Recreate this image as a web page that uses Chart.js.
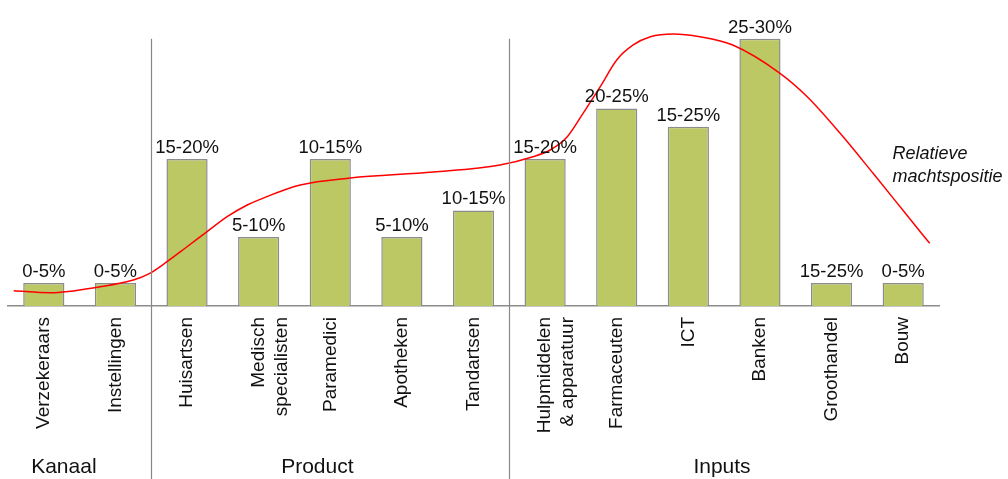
<!DOCTYPE html>
<html>
<head>
<meta charset="utf-8">
<script src="https://cdn.jsdelivr.net/npm/chart.js@4/dist/chart.umd.min.js"></script>
<style>
  html, body { margin: 0; padding: 0; background: #fff; }
  #wrap { width: 1008px; height: 479px; position: relative; }
</style>
</head>
<body>
<div id="wrap"><canvas id="machtChart"></canvas></div>
<script>
// categories and bar values (height in %-points)
const categories = [
  'Verzekeraars', 'Instellingen', 'Huisartsen', ['Medisch', 'specialisten'], 'Paramedici',
  'Apotheken', 'Tandartsen', ['Hulpmiddelen', '& apparatuur'], 'Farmaceuten', 'ICT',
  'Banken', 'Groothandel', 'Bouw'
];
const barValues = [2.5, 2.5, 16, 7.5, 16, 7.5, 10.4, 16, 21.5, 19.5, 29.1, 2.5, 2.5];
const barLabels = ['0-5%', '0-5%', '15-20%', '5-10%', '10-15%', '5-10%', '10-15%',
  '15-20%', '20-25%', '15-25%', '25-30%', '15-25%', '0-5%'];

// "relatieve machtspositie" curve, x in category index units
const curveX = [-0.42, 0.09, 0.79, 1.25, 1.48, 1.72, 2.0, 2.28, 2.56, 2.84, 3.02, 3.58,
  4.28, 5.44, 6.37, 6.83, 7.07, 7.31, 7.53, 7.77, 8.0, 8.23, 8.47, 8.79, 9.16, 9.62,
  10.28, 10.66, 11.12, 11.58, 12.05, 12.37];
const curveY = [1.67, 1.45, 2.1, 2.83, 3.56, 4.82, 6.45, 8.09, 9.72, 10.99, 11.61, 13.17,
  13.93, 14.58, 15.35, 16.25, 16.98, 18.43, 20.97, 23.87, 26.78, 28.41, 29.31, 29.61, 29.31, 28.41,
  25.33, 22.78, 18.8, 14.44, 9.9, 6.82];

const groupNames = ['Kanaal', 'Product', 'Inputs'];
const groupBreaks = [1.5, 6.5]; // separators between categories
const groupLabelAt = [0.28, 3.82, 9.47];

const fontFam = '"Liberation Sans", Arial, sans-serif';

const overlayPlugin = {
  id: 'overlay',
  afterDatasetsDraw(chart) {
    const ctx = chart.ctx;
    const meta = chart.getDatasetMeta(0);
    ctx.save();
    ctx.fillStyle = '#111';
    ctx.font = '18.5px ' + fontFam;
    ctx.textAlign = 'center';
    ctx.textBaseline = 'alphabetic';
    meta.data.forEach(function(bar, i) {
      ctx.fillText(barLabels[i], bar.x, bar.y - 6);
    });
    ctx.restore();
  },
  afterDraw(chart) {
    const ctx = chart.ctx;
    const xs = chart.scales.x2;
    const ys = chart.scales.y;
    ctx.save();
    // group separators
    ctx.strokeStyle = '#888';
    ctx.lineWidth = 1.2;
    groupBreaks.forEach(function(b) {
      const px = Math.round(xs.getPixelForValue(b)) + 0.5;
      ctx.beginPath();
      ctx.moveTo(px, ys.getPixelForValue(29.1));
      ctx.lineTo(px, chart.height);
      ctx.stroke();
    });
    // group names
    ctx.fillStyle = '#111';
    ctx.font = '21px ' + fontFam;
    ctx.textAlign = 'center';
    groupNames.forEach(function(name, i) {
      ctx.fillText(name, xs.getPixelForValue(groupLabelAt[i]), 473);
    });
    // curve caption
    ctx.font = 'italic 18px ' + fontFam;
    ctx.textAlign = 'left';
    const cx = xs.getPixelForValue(11.85);
    ctx.fillText('Relatieve', cx, ys.getPixelForValue(16));
    ctx.fillText('machtspositie', cx, ys.getPixelForValue(13.5));
    ctx.restore();
  }
};

const ctx = document.getElementById('machtChart').getContext('2d');
new Chart(ctx, {
  type: 'bar',
  data: {
    labels: categories,
    datasets: [{
      data: barValues,
      backgroundColor: '#BBC863',
      borderColor: '#8c8c8c',
      borderWidth: 1.5,
      barPercentage: 0.575,
      categoryPercentage: 1,
      grouped: false,
      order: 1
    }, {
      type: 'line',
      xAxisID: 'x2',
      data: curveX.map(function(x, i) { return { x: x, y: curveY[i] }; }),
      borderColor: '#ff0000',
      borderWidth: 1.5,
      pointRadius: 0,
      cubicInterpolationMode: 'monotone',
      fill: false,
      order: 0
    }]
  },
  options: {
    responsive: true,
    maintainAspectRatio: false,
    animation: false,
    layout: { padding: { left: 8, right: 69, top: 12, bottom: 0 } },
    plugins: { legend: { display: false }, tooltip: { enabled: false } },
    scales: {
      x: {
        offset: true,
        grid: { display: false, drawTicks: false },
        border: { display: true, color: '#8c8c8c', width: 1.5 },
        ticks: {
          color: '#111',
          font: { family: fontFam, size: 19, lineHeight: 1.2 },
          minRotation: 90,
          maxRotation: 90,
          padding: 11,
          autoSkip: false
        },
        afterFit: function(scale) { scale.height = 173; }
      },
      x2: {
        type: 'linear',
        display: false,
        offset: false,
        min: -0.5,
        max: 12.5
      },
      y: {
        display: false,
        min: 0,
        max: 32
      }
    }
  },
  plugins: [overlayPlugin]
});
</script>
</body>
</html>
